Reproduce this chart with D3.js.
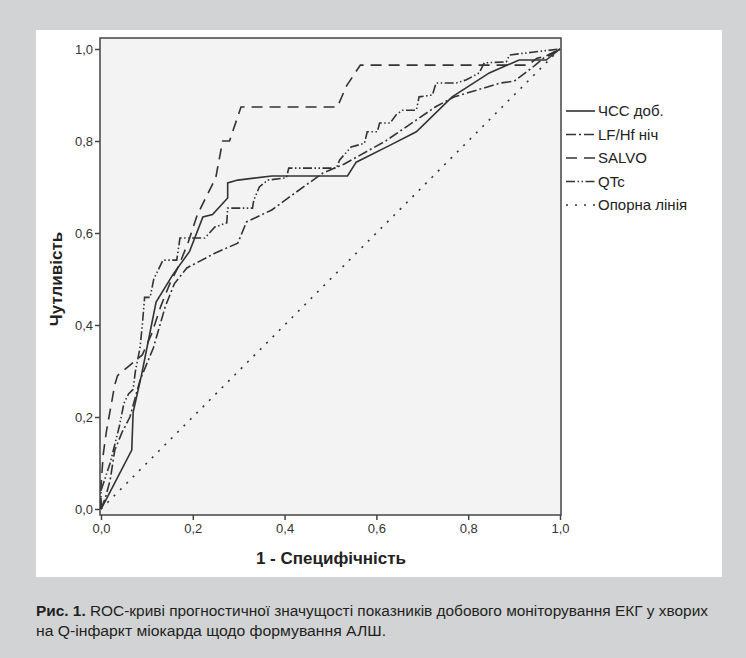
<!DOCTYPE html>
<meta charset="utf-8">
<script src="https://d3js.org/d3.v7.min.js"></script>
<style>
  body { margin: 0; background: #d1d3d4; }
  svg { display: block; font-family: "Liberation Sans", Arial, sans-serif; }
</style>
<div id="my_dataviz"></div>
<script>
// tick labels
var tickValues = [0, 0.2, 0.4, 0.6, 0.8, 1];
var tickLabels = ["0,0", "0,2", "0,4", "0,6", "0,8", "1,0"];

// series names (legend order)
var seriesNames = ["ЧСС  доб.", "LF/Hf ніч", "SALVO", "QTc", "Опорна лінія"];

// ЧСС доб.
var hrFpr = [0, 0.013, 0.067, 0.07, 0.088, 0.10, 0.12, 0.157, 0.193, 0.222, 0.243, 0.276, 0.276, 0.298, 0.372, 0.537, 0.556, 0.628, 0.687, 0.765, 0.846, 0.911, 0.97, 1];
var hrTpr = [0, 0.024, 0.128, 0.21, 0.29, 0.35, 0.45, 0.51, 0.56, 0.635, 0.64, 0.676, 0.709, 0.715, 0.724, 0.724, 0.754, 0.79, 0.82, 0.896, 0.948, 0.976, 0.976, 1];

// LF/Hf ніч
var lfFpr = [0, 0.01, 0.02, 0.03, 0.046, 0.063, 0.085, 0.114, 0.14, 0.16, 0.187, 0.248, 0.298, 0.317, 0.372, 0.417, 0.483, 0.53, 0.62, 0.73, 0.77, 0.87, 0.90, 0.94, 0.97, 1];
var lfTpr = [0, 0.026, 0.063, 0.128, 0.167, 0.2, 0.28, 0.35, 0.44, 0.49, 0.524, 0.556, 0.578, 0.624, 0.65, 0.683, 0.73, 0.75, 0.80, 0.875, 0.896, 0.926, 0.93, 0.96, 0.985, 1];

// SALVO
var svFpr = [0, 0, 0.005, 0.012, 0.03, 0.036, 0.06, 0.09, 0.11, 0.13, 0.15, 0.17, 0.19, 0.21, 0.23, 0.25, 0.265, 0.28, 0.305, 0.515, 0.535, 0.565, 0.93, 0.95, 0.975, 1];
var svTpr = [0, 0.05, 0.12, 0.17, 0.27, 0.29, 0.31, 0.335, 0.38, 0.44, 0.49, 0.53, 0.58, 0.64, 0.68, 0.72, 0.80, 0.80, 0.874, 0.874, 0.92, 0.965, 0.965, 0.98, 0.985, 1];

// QTc
var qtFpr = [0, 0, 0.01, 0.02, 0.03, 0.04, 0.05, 0.06, 0.07, 0.075, 0.085, 0.09, 0.095, 0.107, 0.115, 0.135, 0.165, 0.172, 0.226, 0.248, 0.274, 0.276, 0.33, 0.333, 0.345, 0.363, 0.404, 0.409, 0.513, 0.52, 0.545, 0.574, 0.58, 0.602, 0.607, 0.63, 0.643, 0.657, 0.687, 0.693, 0.722, 0.73, 0.774, 0.796, 0.824, 0.835, 0.883, 0.89, 0.94, 1];
var qtTpr = [0, 0.04, 0.07, 0.10, 0.14, 0.18, 0.23, 0.25, 0.26, 0.30, 0.35, 0.40, 0.46, 0.46, 0.50, 0.541, 0.541, 0.589, 0.589, 0.613, 0.622, 0.654, 0.654, 0.672, 0.70, 0.715, 0.72, 0.741, 0.741, 0.759, 0.787, 0.795, 0.82, 0.82, 0.839, 0.839, 0.857, 0.867, 0.867, 0.896, 0.90, 0.926, 0.926, 0.933, 0.948, 0.97, 0.972, 0.987, 0.993, 1];

// reference line
var refFpr = [0, 1];
var refTpr = [0, 1];

var W = 746, H = 658;
var svg = d3.select("#my_dataviz").append("svg")
  .attr("width", W).attr("height", H);

svg.append("rect").attr("width", W).attr("height", H).attr("fill", "#d1d3d4");
svg.append("rect").attr("x", 36).attr("y", 30).attr("width", 686).attr("height", 547).attr("fill", "#ffffff");

var x = d3.scaleLinear().domain([0, 1]).range([101, 560]);
var y = d3.scaleLinear().domain([0, 1]).range([509, 49]);

// plot area
svg.append("rect")
  .attr("x", 100).attr("y", 38)
  .attr("width", 461).attr("height", 477)
  .attr("fill", "#f3f3f3")
  .attr("stroke", "#444").attr("stroke-width", 1.5);

// axes
var yAxis = svg.append("g")
  .attr("transform", "translate(100,0)")
  .call(d3.axisLeft(y).tickValues(tickValues).tickSize(5).tickPadding(2)
    .tickFormat(function(d, i) { return tickLabels[i]; }));
var xAxis = svg.append("g")
  .attr("transform", "translate(0,515)")
  .call(d3.axisBottom(x).tickValues(tickValues).tickSize(5).tickPadding(4)
    .tickFormat(function(d, i) { return tickLabels[i]; }));
[xAxis, yAxis].forEach(function(a) {
  a.select(".domain").remove();
  a.selectAll("line").attr("stroke", "#444").attr("stroke-width", 1.5);
  a.selectAll("text").attr("fill", "#333").style("font-size", "13px")
    .style("font-family", "'Liberation Sans', Arial, sans-serif");
});

// axis titles
svg.append("text")
  .attr("x", 331).attr("y", 564)
  .style("text-anchor", "middle").style("font-size", "17px").style("font-weight", "bold")
  .attr("fill", "#222")
  .text("1 - Специфічність");
svg.append("text")
  .attr("transform", "translate(62,279) rotate(-90)")
  .style("text-anchor", "middle").style("font-size", "17px").style("font-weight", "bold")
  .attr("fill", "#222")
  .text("Чутливість");

var series = [
  {fpr: hrFpr, tpr: hrTpr, dash: null},
  {fpr: lfFpr, tpr: lfTpr, dash: "10,3,2,3"},
  {fpr: svFpr, tpr: svTpr, dash: "11,7"},
  {fpr: qtFpr, tpr: qtTpr, dash: "9,2.5,1.5,2.5,1.5,2.5"},
  {fpr: refFpr, tpr: refTpr, dash: "2,7"}
];

var line = d3.line()
  .x(function(d) { return x(d[0]); })
  .y(function(d) { return y(d[1]); });

svg.append("g").selectAll("path")
  .data(series.slice().reverse())
  .enter().append("path")
    .attr("d", function(s) { return line(d3.zip(s.fpr, s.tpr)); })
    .attr("fill", "none")
    .attr("stroke", "#333")
    .attr("stroke-width", 1.6)
    .attr("stroke-dasharray", function(s) { return s.dash; });

// legend
var legend = svg.append("g").selectAll("g")
  .data(series).enter().append("g")
  .attr("transform", function(d, i) { return "translate(0," + (111 + i * 23.5) + ")"; });
legend.append("line")
  .attr("x1", 566).attr("x2", 595).attr("y1", 0).attr("y2", 0)
  .attr("stroke", "#333").attr("stroke-width", 1.6)
  .attr("stroke-dasharray", function(d) { return d.dash; });
legend.append("text")
  .attr("x", 598).attr("y", 0).attr("dy", "0.35em")
  .style("font-size", "15px").attr("fill", "#222")
  .text(function(d, i) { return seriesNames[i]; });

// caption
var cap1 = svg.append("text").attr("x", 36).attr("y", 616)
  .attr("fill", "#231f20").style("font-size", "14px")
  .style("font-family", "'Liberation Sans Narrow', 'Arial Narrow', 'Liberation Sans', sans-serif")
  .attr("textLength", 672).attr("lengthAdjust", "spacingAndGlyphs");
cap1.append("tspan").style("font-weight", "bold").text("Рис. 1.");
cap1.append("tspan").text(" ROC-криві прогностичної значущості показників добового моніторування ЕКГ у хворих");
svg.append("text").attr("x", 36).attr("y", 636)
  .attr("fill", "#231f20").style("font-size", "14px")
  .style("font-family", "'Liberation Sans Narrow', 'Arial Narrow', 'Liberation Sans', sans-serif")
  .attr("textLength", 350).attr("lengthAdjust", "spacingAndGlyphs")
  .text("на Q-інфаркт міокарда щодо формування АЛШ.");
</script>
